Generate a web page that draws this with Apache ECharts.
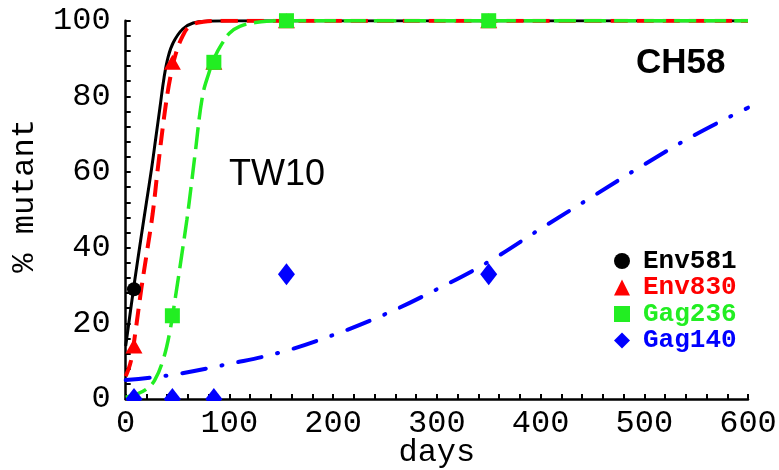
<!DOCTYPE html>
<html><head><meta charset="utf-8">
<script src="https://cdn.jsdelivr.net/npm/echarts@6/dist/echarts.min.js"></script>
<style>html,body{margin:0;padding:0;background:#fff}#c{width:779px;height:470px}</style>
</head><body><div id="c"></div>
<script>
// Measured data points [days, % mutant]
var env581Pts = [[8, 29]];
var env830Pts = [[8, 14], [45, 89], [85, 89], [155, 100], [350, 100]];
var gag236Pts = [[45, 22], [85, 89], [155, 100], [350, 100]];
var gag140Pts = [[8, 0], [45, 0], [85, 0], [155, 33], [350, 33]];

// Fitted curves [days, % mutant]
var env581Fit = [[0,14],[8,30],[15,43],[20,52],[25,61],[29,69],[33,77],[37,85],[41,90.5],[46,94.3],[55,97.8],[65,99.4],[80,99.9],[100,100],[200,100],[400,100],[600,100]];
var env830Fit = [[0,6],[5,10],[9,17],[15,29],[20,38],[26,49],[31,61],[38,76.5],[43,85],[48,91],[55,96],[62,98.6],[75,99.7],[100,100],[200,100],[400,100],[600,100]];
var gag236Fit = [[0,0.5],[10,1.2],[20,2.6],[28,5],[36,10.3],[42,17],[48,27],[54,38],[59,47.4],[63,56],[67,65],[74,80],[80,86],[86,90.5],[93,94],[100,96.7],[110,98.5],[125,99.5],[150,100],[250,100],[400,100],[600,100]];
var gag140Fit = [[0,5],[25,5.7],[50,6.6],[100,9.3],[150,12.4],[200,16.9],[250,22.4],[300,29],[350,36.3],[400,45],[450,53.5],[500,62],[550,70],[600,77]];

var names = ['Env581', 'Env830', 'Gag236', 'Gag140'];
var colors = ['#000000', '#ff0000', '#22ee22', '#0000ff'];

var mono = '"Liberation Mono", "DejaVu Sans Mono", monospace';
var chart = echarts.init(document.getElementById('c'));
var lineCommon = {type: 'line', showSymbol: false, symbol: 'none', smooth: 0.4, silent: true, clip: true};
chart.setOption({
  animation: false,
  backgroundColor: '#fff',
  grid: {left: 125.7, right: 31, top: 20.7, bottom: 71, containLabel: false, outerBoundsMode: 'none'},
  xAxis: {
    type: 'value', min: 0, max: 600, interval: 100,
    name: 'days', nameLocation: 'middle', nameGap: 38, nameMoveOverlap: false,
    nameTextStyle: {fontFamily: mono, fontSize: 32, color: '#000'},
    axisLine: {show: true, onZero: false, lineStyle: {color: '#000', width: 2.5}},
    axisTick: {show: true, inside: true, length: 5, lineStyle: {color: '#000', width: 2}},
    minorTick: {show: true, splitNumber: 5, length: 5, lineStyle: {color: '#000', width: 2}},
    axisLabel: {fontFamily: mono, fontSize: 32, color: '#000', margin: 9, showMinLabel: true, showMaxLabel: true, hideOverlap: false},
    splitLine: {show: false}
  },
  yAxis: {
    type: 'value', min: 0, max: 100, interval: 20,
    name: '% mutant', nameLocation: 'middle', nameGap: 85, nameRotate: 90,
    nameTextStyle: {fontFamily: mono, fontSize: 32, color: '#000', padding: [0, 0, 0, 28]},
    axisLine: {show: true, onZero: false, lineStyle: {color: '#000', width: 2.5}},
    axisTick: {show: true, inside: true, length: 5, lineStyle: {color: '#000', width: 2}},
    minorTick: {show: true, splitNumber: 5, length: 5, lineStyle: {color: '#000', width: 2}},
    axisLabel: {fontFamily: mono, fontSize: 32, color: '#000', margin: 15},
    splitLine: {show: false}
  },
  legend: {
    orient: 'vertical', left: 609, top: 243,
    itemWidth: 16, itemHeight: 16, itemGap: 0.5,
    selectedMode: false,
    data: names.map(function (n, i) {
      return {name: n, textStyle: {color: colors[i]}};
    }),
    textStyle: {fontFamily: mono, fontSize: 26, fontWeight: 'bold', lineHeight: 26, padding: [0, 0, 0, 8]}
  },
  graphic: [
    {type: 'rect', z: 100, shape: {x: 124.5, y: 401, width: 630, height: 9}, style: {fill: '#fff'}},
    {type: 'text', z: 100, left: 636, top: 46, style: {text: 'CH58', font: 'bold 35px "Liberation Sans", Arial, sans-serif', fill: '#000'}},
    {type: 'text', z: 100, left: 229, top: 157, style: {text: 'TW10', font: '36px "Liberation Sans", Arial, sans-serif', fill: '#000'}}
  ],
  series: [
    Object.assign({}, lineCommon, {name: 'Env581 fit', data: env581Fit, z: 2, lineStyle: {color: colors[0], width: 3, type: 'solid'}}),
    Object.assign({}, lineCommon, {name: 'Env830 fit', data: env830Fit, z: 3, lineStyle: {color: colors[1], width: 4, type: [17, 9]}}),
    Object.assign({}, lineCommon, {name: 'Gag236 fit', data: gag236Fit, z: 4, lineStyle: {color: colors[2], width: 3.5, type: [22, 8]}}),
    Object.assign({}, lineCommon, {name: 'Gag140 fit', data: gag140Fit, z: 4, lineStyle: {color: colors[3], width: 4, type: [24, 16, 1, 16], cap: 'round'}}),
    {type: 'scatter', name: 'Env581', data: env581Pts, symbol: 'circle', symbolSize: 14, z: 5, itemStyle: {color: colors[0], opacity: 1}},
    {type: 'scatter', name: 'Env830', data: env830Pts, symbol: 'triangle', symbolSize: [17, 15], z: 6, itemStyle: {color: colors[1], opacity: 1}},
    {type: 'scatter', name: 'Gag236', data: gag236Pts, symbol: 'rect', symbolSize: 15, z: 7, itemStyle: {color: colors[2], opacity: 1}},
    {type: 'scatter', name: 'Gag140', data: gag140Pts, symbol: 'diamond', symbolSize: [17, 22], z: 7, itemStyle: {color: colors[3], opacity: 1}}
  ]
});
</script>
</body></html>
